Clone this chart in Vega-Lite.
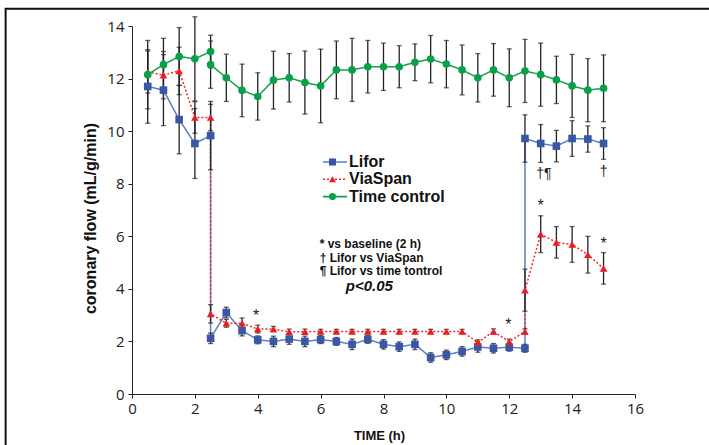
{
  "$schema": "https://vega.github.io/schema/vega-lite/v6.json",
  "autosize": {"type": "none"},
  "padding": {"left": 132, "top": 26, "right": 74, "bottom": 51},
  "width": 503,
  "height": 368,
  "background": "white",
  "config": {"view": {"stroke": null}},
  "datasets": {
    "flow": [
      {"series": "Lifor", "t": 0.5, "ord": 1, "mean": 11.7, "sd": 1.4},
      {"series": "Lifor", "t": 1.0, "ord": 2, "mean": 11.56, "sd": 1.35},
      {"series": "Lifor", "t": 1.5, "ord": 3, "mean": 10.44, "sd": 1.3},
      {"series": "Lifor", "t": 2.0, "ord": 4, "mean": 9.53, "sd": 1.33},
      {"series": "Lifor", "t": 2.5, "ord": 5, "mean": 9.83, "sd": 1.3},
      {"series": "Lifor", "t": 2.5, "ord": 6, "mean": 2.12, "sd": 0.2},
      {"series": "Lifor", "t": 3.0, "ord": 7, "mean": 3.1, "sd": 0.2},
      {"series": "Lifor", "t": 3.5, "ord": 8, "mean": 2.41, "sd": 0.2},
      {"series": "Lifor", "t": 4.0, "ord": 9, "mean": 2.06, "sd": 0.15},
      {"series": "Lifor", "t": 4.5, "ord": 10, "mean": 2.0, "sd": 0.2},
      {"series": "Lifor", "t": 5.0, "ord": 11, "mean": 2.09, "sd": 0.2},
      {"series": "Lifor", "t": 5.5, "ord": 12, "mean": 2.0, "sd": 0.2},
      {"series": "Lifor", "t": 6.0, "ord": 13, "mean": 2.07, "sd": 0.15},
      {"series": "Lifor", "t": 6.5, "ord": 14, "mean": 2.0, "sd": 0.15},
      {"series": "Lifor", "t": 7.0, "ord": 15, "mean": 1.89, "sd": 0.2},
      {"series": "Lifor", "t": 7.5, "ord": 16, "mean": 2.08, "sd": 0.15},
      {"series": "Lifor", "t": 8.0, "ord": 17, "mean": 1.89, "sd": 0.18},
      {"series": "Lifor", "t": 8.5, "ord": 18, "mean": 1.8, "sd": 0.18},
      {"series": "Lifor", "t": 9.0, "ord": 19, "mean": 1.89, "sd": 0.2},
      {"series": "Lifor", "t": 9.5, "ord": 20, "mean": 1.39, "sd": 0.18},
      {"series": "Lifor", "t": 10.0, "ord": 21, "mean": 1.49, "sd": 0.18},
      {"series": "Lifor", "t": 10.5, "ord": 22, "mean": 1.62, "sd": 0.18},
      {"series": "Lifor", "t": 11.0, "ord": 23, "mean": 1.79, "sd": 0.2},
      {"series": "Lifor", "t": 11.5, "ord": 24, "mean": 1.74, "sd": 0.18},
      {"series": "Lifor", "t": 12.0, "ord": 25, "mean": 1.78, "sd": 0.15},
      {"series": "Lifor", "t": 12.5, "ord": 26, "mean": 1.74, "sd": 0.15},
      {"series": "Lifor", "t": 12.5, "ord": 27, "mean": 9.72, "sd": 0.9},
      {"series": "Lifor", "t": 13.0, "ord": 28, "mean": 9.53, "sd": 0.72},
      {"series": "Lifor", "t": 13.5, "ord": 29, "mean": 9.43, "sd": 0.6},
      {"series": "Lifor", "t": 14.0, "ord": 30, "mean": 9.72, "sd": 0.68},
      {"series": "Lifor", "t": 14.5, "ord": 31, "mean": 9.7, "sd": 0.5},
      {"series": "Lifor", "t": 15.0, "ord": 32, "mean": 9.53, "sd": 0.6},

      {"series": "ViaSpan", "t": 0.5, "ord": 1, "mean": 12.25, "sd": 0.8},
      {"series": "ViaSpan", "t": 1.0, "ord": 2, "mean": 12.13, "sd": 0.9},
      {"series": "ViaSpan", "t": 1.5, "ord": 3, "mean": 12.29, "sd": 0.9},
      {"series": "ViaSpan", "t": 2.0, "ord": 4, "mean": 10.52, "sd": 0.6},
      {"series": "ViaSpan", "t": 2.5, "ord": 5, "mean": 10.52, "sd": 0.5},
      {"series": "ViaSpan", "t": 2.5, "ord": 6, "mean": 3.05, "sd": 0.35},
      {"series": "ViaSpan", "t": 3.0, "ord": 7, "mean": 2.69, "sd": 0.15},
      {"series": "ViaSpan", "t": 3.5, "ord": 8, "mean": 2.69, "sd": 0.2},
      {"series": "ViaSpan", "t": 4.0, "ord": 9, "mean": 2.47, "sd": 0.15},
      {"series": "ViaSpan", "t": 4.5, "ord": 10, "mean": 2.47, "sd": 0.1},
      {"series": "ViaSpan", "t": 5.0, "ord": 11, "mean": 2.37, "sd": 0.1},
      {"series": "ViaSpan", "t": 5.5, "ord": 12, "mean": 2.37, "sd": 0.1},
      {"series": "ViaSpan", "t": 6.0, "ord": 13, "mean": 2.38, "sd": 0.08},
      {"series": "ViaSpan", "t": 6.5, "ord": 14, "mean": 2.38, "sd": 0.08},
      {"series": "ViaSpan", "t": 7.0, "ord": 15, "mean": 2.38, "sd": 0.08},
      {"series": "ViaSpan", "t": 7.5, "ord": 16, "mean": 2.38, "sd": 0.08},
      {"series": "ViaSpan", "t": 8.0, "ord": 17, "mean": 2.38, "sd": 0.08},
      {"series": "ViaSpan", "t": 8.5, "ord": 18, "mean": 2.38, "sd": 0.08},
      {"series": "ViaSpan", "t": 9.0, "ord": 19, "mean": 2.38, "sd": 0.08},
      {"series": "ViaSpan", "t": 9.5, "ord": 20, "mean": 2.38, "sd": 0.08},
      {"series": "ViaSpan", "t": 10.0, "ord": 21, "mean": 2.38, "sd": 0.08},
      {"series": "ViaSpan", "t": 10.5, "ord": 22, "mean": 2.38, "sd": 0.08},
      {"series": "ViaSpan", "t": 11.0, "ord": 23, "mean": 1.96, "sd": 0.1},
      {"series": "ViaSpan", "t": 11.5, "ord": 24, "mean": 2.38, "sd": 0.1},
      {"series": "ViaSpan", "t": 12.0, "ord": 25, "mean": 1.99, "sd": 0.1},
      {"series": "ViaSpan", "t": 12.5, "ord": 26, "mean": 2.38, "sd": 0.1},
      {"series": "ViaSpan", "t": 12.5, "ord": 27, "mean": 3.95, "sd": 0.8},
      {"series": "ViaSpan", "t": 13.0, "ord": 28, "mean": 6.08, "sd": 0.7},
      {"series": "ViaSpan", "t": 13.5, "ord": 29, "mean": 5.77, "sd": 0.6},
      {"series": "ViaSpan", "t": 14.0, "ord": 30, "mean": 5.69, "sd": 0.68},
      {"series": "ViaSpan", "t": 14.5, "ord": 31, "mean": 5.3, "sd": 0.7},
      {"series": "ViaSpan", "t": 15.0, "ord": 32, "mean": 4.78, "sd": 0.6},

      {"series": "Time control", "t": 0.5, "ord": 1, "mean": 12.15, "sd": 1.3},
      {"series": "Time control", "t": 1.0, "ord": 2, "mean": 12.53, "sd": 1.0},
      {"series": "Time control", "t": 1.5, "ord": 3, "mean": 12.84, "sd": 1.1},
      {"series": "Time control", "t": 2.0, "ord": 4, "mean": 12.75, "sd": 1.6},
      {"series": "Time control", "t": 2.5, "ord": 5, "mean": 13.03, "sd": 0.62},
      {"series": "Time control", "t": 2.5, "ord": 6, "mean": 12.53, "sd": 0.9},
      {"series": "Time control", "t": 3.0, "ord": 7, "mean": 12.03, "sd": 0.9},
      {"series": "Time control", "t": 3.5, "ord": 8, "mean": 11.55, "sd": 1.0},
      {"series": "Time control", "t": 4.0, "ord": 9, "mean": 11.32, "sd": 0.9},
      {"series": "Time control", "t": 4.5, "ord": 10, "mean": 11.94, "sd": 1.1},
      {"series": "Time control", "t": 5.0, "ord": 11, "mean": 12.03, "sd": 0.92},
      {"series": "Time control", "t": 5.5, "ord": 12, "mean": 11.85, "sd": 1.2},
      {"series": "Time control", "t": 6.0, "ord": 13, "mean": 11.72, "sd": 1.4},
      {"series": "Time control", "t": 6.5, "ord": 14, "mean": 12.33, "sd": 1.1},
      {"series": "Time control", "t": 7.0, "ord": 15, "mean": 12.33, "sd": 1.2},
      {"series": "Time control", "t": 7.5, "ord": 16, "mean": 12.45, "sd": 1.0},
      {"series": "Time control", "t": 8.0, "ord": 17, "mean": 12.45, "sd": 0.9},
      {"series": "Time control", "t": 8.5, "ord": 18, "mean": 12.45, "sd": 0.8},
      {"series": "Time control", "t": 9.0, "ord": 19, "mean": 12.62, "sd": 0.7},
      {"series": "Time control", "t": 9.5, "ord": 20, "mean": 12.74, "sd": 0.9},
      {"series": "Time control", "t": 10.0, "ord": 21, "mean": 12.55, "sd": 0.9},
      {"series": "Time control", "t": 10.5, "ord": 22, "mean": 12.33, "sd": 0.95},
      {"series": "Time control", "t": 11.0, "ord": 23, "mean": 12.03, "sd": 0.92},
      {"series": "Time control", "t": 11.5, "ord": 24, "mean": 12.33, "sd": 1.0},
      {"series": "Time control", "t": 12.0, "ord": 25, "mean": 12.03, "sd": 1.1},
      {"series": "Time control", "t": 12.5, "ord": 26, "mean": 12.29, "sd": 1.2},
      {"series": "Time control", "t": 13.0, "ord": 27, "mean": 12.15, "sd": 1.2},
      {"series": "Time control", "t": 13.5, "ord": 28, "mean": 11.95, "sd": 0.9},
      {"series": "Time control", "t": 14.0, "ord": 29, "mean": 11.72, "sd": 1.2},
      {"series": "Time control", "t": 14.5, "ord": 30, "mean": 11.56, "sd": 1.2},
      {"series": "Time control", "t": 15.0, "ord": 31, "mean": 11.63, "sd": 1.27}
    ],
    "stars": [
      {"t": 3.95, "v": 2.96, "txt": "*"},
      {"t": 11.97, "v": 2.64, "txt": "*"},
      {"t": 13.0, "v": 7.14, "txt": "*"},
      {"t": 15.0, "v": 5.69, "txt": "*"}
    ],
    "daggers": [
      {"t": 13.1, "v": 8.38, "txt": "†¶"},
      {"t": 15.0, "v": 8.44, "txt": "†"}
    ],
    "key": [
      {"t": 5.97, "v": 5.7, "txt": "* vs baseline (2 h)"},
      {"t": 5.97, "v": 5.17, "txt": "† Lifor vs ViaSpan"},
      {"t": 5.97, "v": 4.68, "txt": "¶ Lifor vs time tontrol"}
    ],
    "pval": [
      {"t": 6.8, "v": 4.11, "txt": "p<0.05"}
    ]
  },
  "resolve": {
    "scale": {"color": "independent", "shape": "independent", "strokeDash": "independent"},
    "legend": {"color": "independent", "shape": "independent", "strokeDash": "independent"}
  },
  "layer": [
    {
      "data": {"values": [{}]},
      "mark": {"type": "rect", "fill": null, "stroke": "#111", "strokeWidth": 2, "clip": false},
      "encoding": {
        "x": {"datum": -4.02, "type": "quantitative", "scale": {"domain": [0, 16], "nice": false, "zero": false}, "title": "TIME (h)"},
        "x2": {"datum": 30},
        "y": {"datum": 14.66, "type": "quantitative", "scale": {"domain": [0, 14], "nice": false, "zero": false}, "title": "coronary flow (mL/g/min)"},
        "y2": {"datum": -10}
      }
    },
    {
      "data": {"name": "flow"},
      "mark": {"type": "line", "strokeWidth": 1.5},
      "encoding": {
        "x": {
          "field": "t", "type": "quantitative", "title": "TIME (h)",
          "scale": {"domain": [0, 16], "nice": false, "zero": false},
          "axis": {
            "values": [0,0.5,1,1.5,2,2.5,3,3.5,4,4.5,5,5.5,6,6.5,7,7.5,8,8.5,9,9.5,10,10.5,11,11.5,12,12.5,13,13.5,14,14.5,15,15.5,16],
            "labelExpr": "datum.value % 2 === 0 ? datum.label : ''",
            "labelOverlap": false, "labelFlush": false,
            "grid": false, "tickSize": 4, "tickWidth": 1, "tickColor": "#222",
            "domainColor": "#222", "domainWidth": 1,
            "labelFont": "Open Sans", "labelFontSize": 15, "labelColor": "#222", "labelPadding": 3,
            "titleFont": "Liberation Sans", "titleFontSize": 13, "titleFontWeight": "bold",
            "titleColor": "#111", "titleBaseline": "middle", "titleY": 41, "titleX": 247
          }
        },
        "y": {
          "field": "mean", "type": "quantitative", "title": "coronary flow (mL/g/min)",
          "scale": {"domain": [0, 14], "nice": false, "zero": false},
          "axis": {
            "values": [0,0.5,1,1.5,2,2.5,3,3.5,4,4.5,5,5.5,6,6.5,7,7.5,8,8.5,9,9.5,10,10.5,11,11.5,12,12.5,13,13.5,14],
            "labelExpr": "datum.value % 2 === 0 ? datum.label : ''",
            "labelOverlap": false, "labelFlush": false,
            "grid": false, "tickSize": 4, "tickWidth": 1, "tickColor": "#222",
            "domainColor": "#222", "domainWidth": 1,
            "labelFont": "Open Sans", "labelFontSize": 15, "labelColor": "#222", "labelPadding": 4,
            "titleFont": "Liberation Sans", "titleFontSize": 16, "titleFontWeight": "bold",
            "titleColor": "#111", "titleAngle": -90, "titleAlign": "center", "titleBaseline": "middle",
            "titleX": -42, "titleY": 192
          }
        },
        "order": {"field": "ord", "type": "quantitative"},
        "color": {
          "field": "series", "type": "nominal",
          "scale": {"domain": ["Lifor", "ViaSpan", "Time control"], "range": ["#5f7dc3", "#f0282e", "#13a04c"]},
          "legend": {
            "orient": "none", "legendX": 195, "legendY": 128, "title": null, "padding": 0,
            "symbolType": "M-3,0H3", "symbolSize": 64, "symbolStrokeWidth": 1.6,
            "labelFont": "Liberation Sans", "labelFontSize": 16, "labelFontWeight": "bold", "labelColor": "#111",
            "labelOffset": 6, "rowPadding": 1.3
          }
        },
        "strokeDash": {
          "field": "series", "type": "nominal",
          "scale": {"domain": ["Lifor", "ViaSpan", "Time control"], "range": [[1, 0], [2, 2], [1, 0]]},
          "legend": {
            "orient": "none", "legendX": 195, "legendY": 128, "title": null, "padding": 0,
            "symbolType": "M-3,0H3", "symbolSize": 64, "symbolStrokeWidth": 1.6,
            "labelFont": "Liberation Sans", "labelFontSize": 16, "labelFontWeight": "bold", "labelColor": "#111",
            "labelOffset": 6, "rowPadding": 1.3
          }
        }
      }
    },
    {
      "data": {"name": "flow"},
      "mark": {"type": "errorbar", "ticks": {"size": 5, "thickness": 1.3}, "color": "#222", "thickness": 1.3},
      "encoding": {
        "x": {"field": "t", "type": "quantitative", "title": "TIME (h)"},
        "y": {"field": "mean", "type": "quantitative", "title": "coronary flow (mL/g/min)"},
        "yError": {"field": "sd"}
      }
    },
    {
      "data": {"name": "flow"},
      "mark": {"type": "point", "filled": true, "opacity": 1, "size": 58},
      "encoding": {
        "x": {"field": "t", "type": "quantitative", "title": "TIME (h)"},
        "y": {"field": "mean", "type": "quantitative", "title": "coronary flow (mL/g/min)"},
        "color": {
          "field": "series", "type": "nominal",
          "scale": {"domain": ["Lifor", "ViaSpan", "Time control"], "range": ["#3a57a7", "#ed1c24", "#0aa04a"]},
          "legend": {
            "orient": "none", "legendX": 192.5, "legendY": 128, "title": null, "padding": 0,
            "symbolSize": 50, "symbolStrokeWidth": 0,
            "labelFont": "Liberation Sans", "labelFontSize": 16, "labelFontWeight": "bold", "labelOpacity": 0,
            "labelExpr": "' '",
            "labelOffset": 5, "rowPadding": 1.3
          }
        },
        "shape": {
          "field": "series", "type": "nominal",
          "scale": {"domain": ["Lifor", "ViaSpan", "Time control"], "range": ["square", "triangle-up", "circle"]},
          "legend": {
            "orient": "none", "legendX": 192.5, "legendY": 128, "title": null, "padding": 0,
            "symbolSize": 50, "symbolStrokeWidth": 0,
            "labelFont": "Liberation Sans", "labelFontSize": 16, "labelFontWeight": "bold", "labelOpacity": 0,
            "labelExpr": "' '",
            "labelOffset": 5, "rowPadding": 1.3
          }
        }
      }
    },
    {
      "data": {"name": "stars"},
      "mark": {"type": "text", "font": "Liberation Sans", "fontSize": 16, "color": "#222", "align": "center", "baseline": "middle"},
      "encoding": {
        "x": {"field": "t", "type": "quantitative"},
        "y": {"field": "v", "type": "quantitative"},
        "text": {"field": "txt"}
      }
    },
    {
      "data": {"name": "daggers"},
      "mark": {"type": "text", "font": "Liberation Sans", "fontSize": 14, "color": "#222", "align": "center", "baseline": "middle"},
      "encoding": {
        "x": {"field": "t", "type": "quantitative"},
        "y": {"field": "v", "type": "quantitative"},
        "text": {"field": "txt"}
      }
    },
    {
      "data": {"name": "key"},
      "mark": {"type": "text", "font": "Liberation Sans", "fontSize": 12, "fontWeight": "bold", "color": "#111", "align": "left", "baseline": "middle"},
      "encoding": {
        "x": {"field": "t", "type": "quantitative"},
        "y": {"field": "v", "type": "quantitative"},
        "text": {"field": "txt"}
      }
    },
    {
      "data": {"name": "pval"},
      "mark": {"type": "text", "font": "Liberation Sans", "fontSize": 15, "fontWeight": "bold", "fontStyle": "italic", "color": "#111", "align": "left", "baseline": "middle"},
      "encoding": {
        "x": {"field": "t", "type": "quantitative"},
        "y": {"field": "v", "type": "quantitative"},
        "text": {"field": "txt"}
      }
    }
  ]
}
